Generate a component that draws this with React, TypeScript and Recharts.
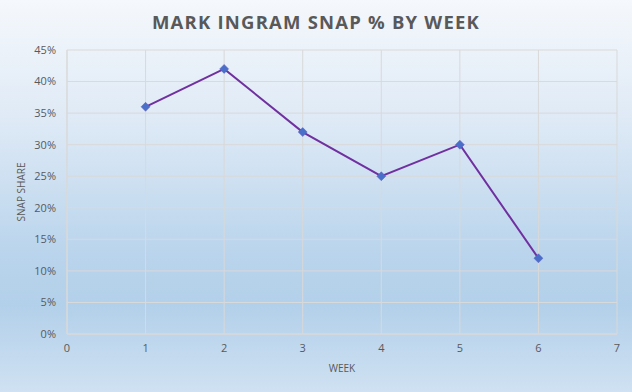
import React from "react";
import {
  LineChart, Line, XAxis, YAxis, CartesianGrid, Label
} from "recharts";

const weeks = [1, 2, 3, 4, 5, 6];
const snapShare = [36, 42, 32, 25, 30, 12];
const xTicks = [0, 1, 2, 3, 4, 5, 6, 7];
const yTicks = [0, 5, 10, 15, 20, 25, 30, 35, 40, 45];

const data = weeks.map((w, i) => ({ week: w, share: snapShare[i] }));

const axisColor = "#595959";
const gridColor = "#d9d9d9";

function Diamond(props: any) {
  const { cx, cy, index } = props;
  if (cx == null || cy == null) return null;
  const r = 4.5;
  return (
    <polygon
      key={index}
      points={`${cx},${cy - r} ${cx + r},${cy} ${cx},${cy + r} ${cx - r},${cy}`}
      fill="#4a6fc9"
      stroke="#5b5fc4"
      strokeWidth={0.5}
    />
  );
}

export default function App() {
  return (
    <div
      style={{
        position: "absolute",
        left: 0,
        top: 0,
        width: 632,
        height: 392,
        background:
          "linear-gradient(to bottom, #f5f8fc 0%, #dfeaf6 30%, #b9d4ec 65%, #b3d0ea 78%, #cfe1f2 100%)",
        fontFamily: "'Open Sans', 'Noto Sans', sans-serif",
        overflow: "hidden",
      }}
    >
      <div
        style={{
          position: "absolute",
          top: 9,
          left: 0,
          width: 632,
          textAlign: "center",
          fontSize: 18.5,
          fontWeight: 700,
          letterSpacing: 1.2,
          color: axisColor,
        }}
      >
        MARK INGRAM SNAP % BY WEEK
      </div>
      <LineChart
        width={632}
        height={392}
        data={data}
        margin={{ top: 50, right: 15, bottom: 28, left: 0 }}
      >
        <CartesianGrid stroke={gridColor} strokeWidth={1} />
        <XAxis
          dataKey="week"
          type="number"
          domain={[0, 7]}
          ticks={xTicks}
          axisLine={{ stroke: gridColor }}
          tickLine={false}
          tickSize={0}
          tickMargin={10}
          height={30}
          tick={{ fontSize: 11, fill: axisColor }}
        >
          <Label value="WEEK" position="insideBottom" offset={-8} style={{ fontSize: 10, fill: axisColor }} />
        </XAxis>
        <YAxis
          type="number"
          domain={[0, 45]}
          ticks={yTicks}
          tickFormatter={(v) => `${v}%`}
          axisLine={{ stroke: gridColor }}
          tickLine={false}
          tickSize={0}
          tickMargin={11}
          width={67}
          tick={{ fontSize: 11, fill: axisColor }}
        >
          <Label
            value="SNAP SHARE"
            angle={-90}
            position="insideLeft"
            offset={21}
            style={{ fontSize: 10, fill: axisColor, textAnchor: "middle" }}
          />
        </YAxis>
        <Line
          type="linear"
          dataKey="share"
          stroke="#7030a0"
          strokeWidth={2}
          dot={<Diamond />}
          activeDot={false}
          isAnimationActive={false}
        />
      </LineChart>
    </div>
  );
}
